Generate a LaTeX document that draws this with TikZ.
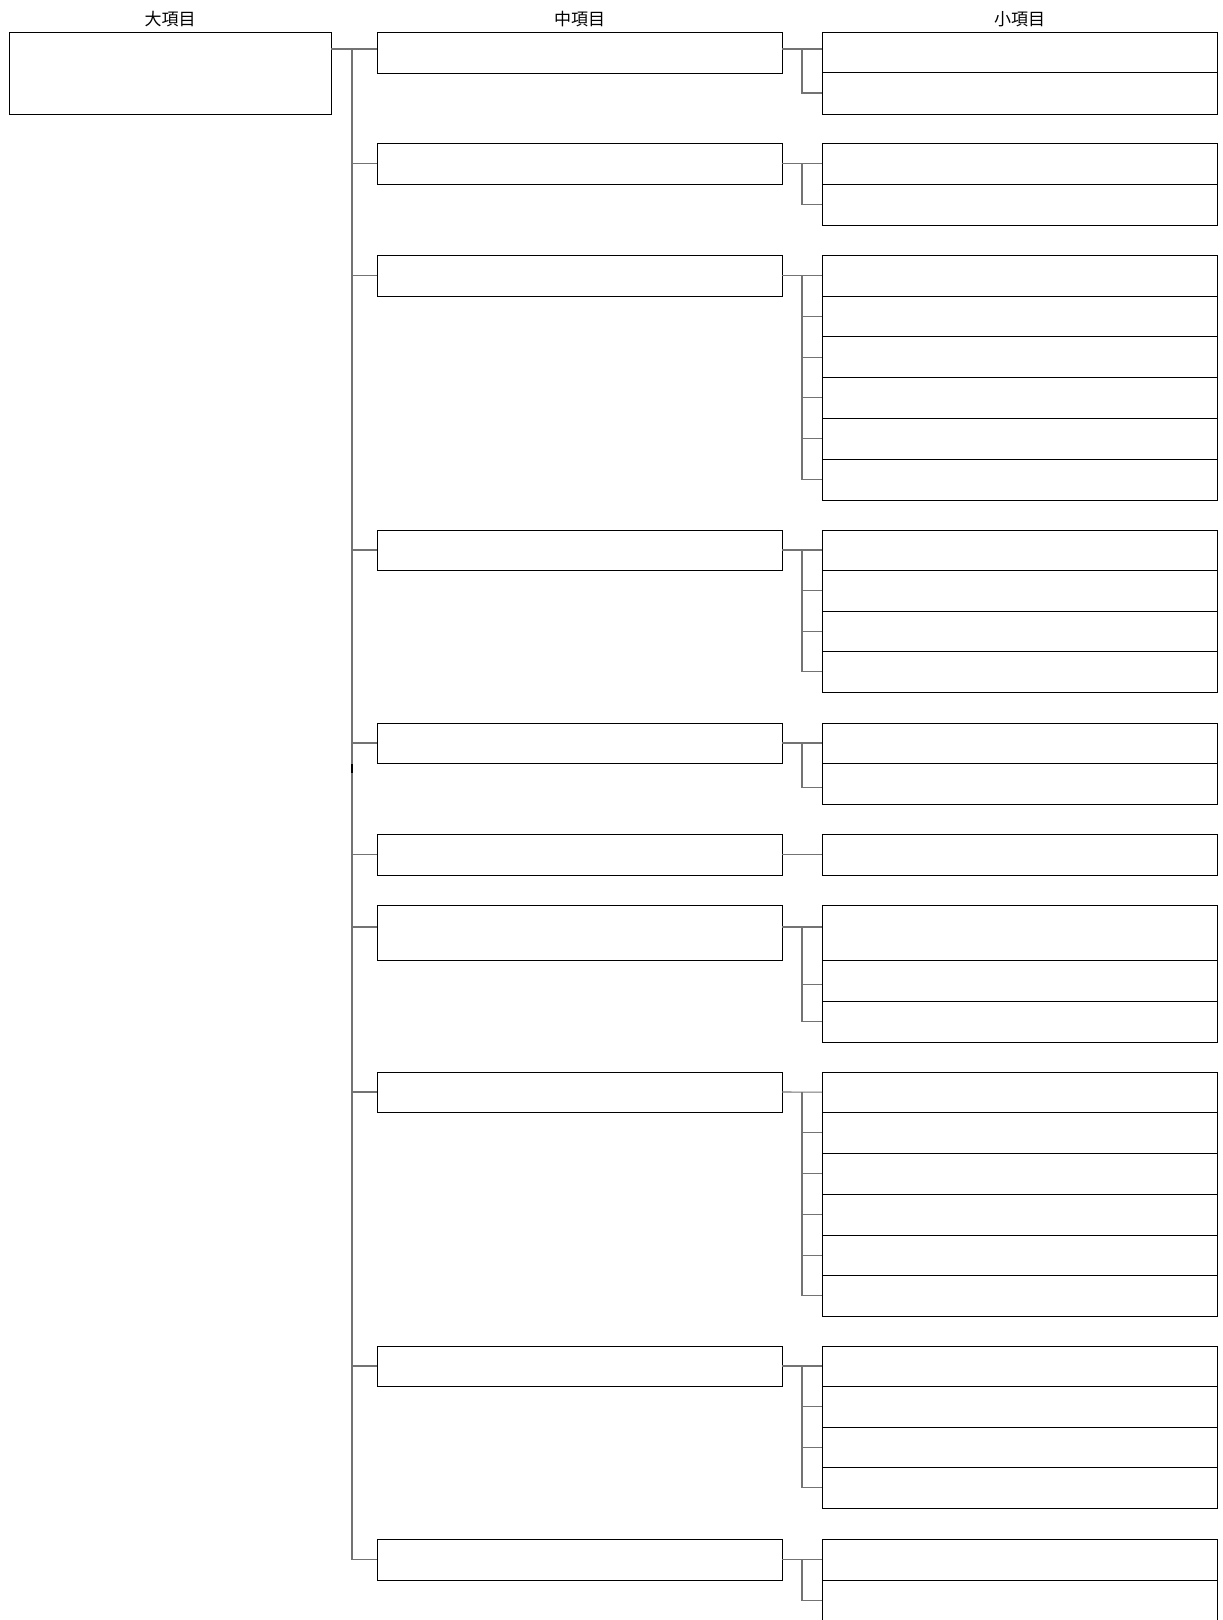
\documentclass[tikz,border=0pt]{standalone}
\usepackage{fontspec}
\newfontfamily\jp{Noto Sans CJK JP}
\begin{document}
\begin{tikzpicture}[x=1pt,y=1pt,
  box/.style={draw=black, line width=1pt, inner sep=0pt, outer sep=0pt, anchor=north west},
  bigbox/.style={box, minimum width=322pt, minimum height=82pt},
  midbox/.style={box, minimum width=405pt},
  smallbox/.style={box, minimum width=395pt},
  conn/.style={draw=black!55, line width=1.1pt},
  hdr/.style={inner sep=0pt, font=\jp\fontsize{17pt}{19pt}\selectfont}]
\useasboundingbox (0,0) rectangle (1223,-1620);
% headers
\node[hdr] (h1) at (170,-19) {大項目};
\node[hdr] (h2) at (579.5,-19) {中項目};
\node[hdr] (h3) at (1019.5,-19) {小項目};
% helper coordinates
\coordinate (tx) at (352,0);
\coordinate (sx) at (802,0);
\coordinate (b1) at (0,-49);
\coordinate (b7) at (0,-927);
% big box
\node[bigbox] (big) at (9,-32) {};
% middle boxes
\node[midbox, minimum height=41pt] (m1) at (377,-32) {};
\node[midbox, minimum height=40.4pt] (m2) at (377,-143.6) {};
\node[midbox, minimum height=41pt] (m3) at (377,-255) {};
\node[midbox, minimum height=40pt] (m4) at (377,-530) {};
\node[midbox, minimum height=40pt] (m5) at (377,-723) {};
\node[midbox, minimum height=41pt] (m6) at (377,-834) {};
\node[midbox, minimum height=55pt] (m7) at (377,-905) {};
\node[midbox, minimum height=40pt] (m8) at (377,-1072) {};
\node[midbox, minimum height=40pt] (m9) at (377,-1346) {};
\node[midbox, minimum height=41pt] (m10) at (377,-1539) {};
% small boxes
\node[smallbox, minimum height=40pt] (s1a) at (822,-32) {};
\node[smallbox, minimum height=42pt] (s1b) at (822,-72) {};
\node[smallbox, minimum height=40.4pt] (s2a) at (822,-143.6) {};
\node[smallbox, minimum height=41.2pt] (s2b) at (822,-184) {};
\node[smallbox, minimum height=41pt] (s3a) at (822,-255) {};
\node[smallbox, minimum height=40.7pt] (s3b) at (822,-296) {};
\node[smallbox, minimum height=40.8pt] (s3c) at (822,-336.7) {};
\node[smallbox, minimum height=40.8pt] (s3d) at (822,-377.5) {};
\node[smallbox, minimum height=40.7pt] (s3e) at (822,-418.3) {};
\node[smallbox, minimum height=41pt] (s3f) at (822,-459) {};
\node[smallbox, minimum height=40pt] (s4a) at (822,-530) {};
\node[smallbox, minimum height=41pt] (s4b) at (822,-570) {};
\node[smallbox, minimum height=40.5pt] (s4c) at (822,-611) {};
\node[smallbox, minimum height=40.5pt] (s4d) at (822,-651.5) {};
\node[smallbox, minimum height=40pt] (s5a) at (822,-723) {};
\node[smallbox, minimum height=41pt] (s5b) at (822,-763) {};
\node[smallbox, minimum height=41pt] (s6a) at (822,-834) {};
\node[smallbox, minimum height=55pt] (s7a) at (822,-905) {};
\node[smallbox, minimum height=41pt] (s7b) at (822,-960) {};
\node[smallbox, minimum height=41pt] (s7c) at (822,-1001) {};
\node[smallbox, minimum height=40.3pt] (s8a) at (822,-1072) {};
\node[smallbox, minimum height=41pt] (s8b) at (822,-1112.3) {};
\node[smallbox, minimum height=41pt] (s8c) at (822,-1153.3) {};
\node[smallbox, minimum height=40.7pt] (s8d) at (822,-1194.3) {};
\node[smallbox, minimum height=40.7pt] (s8e) at (822,-1235) {};
\node[smallbox, minimum height=40.3pt] (s8f) at (822,-1275.7) {};
\node[smallbox, minimum height=40pt] (s9a) at (822,-1346) {};
\node[smallbox, minimum height=41pt] (s9b) at (822,-1386) {};
\node[smallbox, minimum height=40.7pt] (s9c) at (822,-1427) {};
\node[smallbox, minimum height=40.3pt] (s9d) at (822,-1467.7) {};
\node[smallbox, minimum height=41pt] (s10a) at (822,-1539) {};
\node[smallbox, minimum height=41pt] (s10b) at (822,-1580) {};
% main trunk
\draw[conn] (big.east |- b1) -- (m1.west |- b1);
\draw[conn] (tx |- b1) -- (tx |- m10.west) -- (m10.west);
\foreach \g in {2,3,4,5,6,8,9}
  \draw[conn] (tx |- m\g.west) -- (m\g.west);
\draw[conn] (tx |- b7) -- (m7.west |- b7);
\draw[black, line width=1.3pt] ([yshift=-1pt]tx |- m5.south) -- ([yshift=-10pt]tx |- m5.south);
% group 1
\draw[conn] (m1.east |- b1) -- (s1a.west |- b1);
\draw[conn] (sx |- b1) -- (sx |- s1b.west) -- (s1b.west);
% group 2
\draw[conn] (m2.east) -- (s2a.west);
\draw[conn] (sx |- s2a.west) -- (sx |- s2b.west) -- (s2b.west);
% group 3
\draw[conn] (m3.east) -- (s3a.west);
\draw[conn] (sx |- s3a.west) -- (sx |- s3f.west) -- (s3f.west);
\foreach \r in {b,c,d,e} \draw[conn] (sx |- s3\r.west) -- (s3\r.west);
% group 4
\draw[conn] (m4.east) -- (s4a.west);
\draw[conn] (sx |- s4a.west) -- (sx |- s4d.west) -- (s4d.west);
\foreach \r in {b,c} \draw[conn] (sx |- s4\r.west) -- (s4\r.west);
% group 5
\draw[conn] (m5.east) -- (s5a.west);
\draw[conn] (sx |- s5a.west) -- ([yshift=-4pt]sx |- s5b.west) -- ([yshift=-4pt]s5b.west);
% group 6
\draw[conn] (m6.east) -- (s6a.west);
% group 7
\draw[conn] (m7.east |- b7) -- (s7a.west |- b7);
\draw[conn] (sx |- b7) -- (sx |- s7c.west) -- (s7c.west);
\draw[conn] ([yshift=-4pt]sx |- s7b.west) -- ([yshift=-4pt]s7b.west);
% group 8
\draw[conn] (m8.east) -- (s8a.west);
\draw[conn] (sx |- s8a.west) -- (sx |- s8f.west) -- (s8f.west);
\foreach \r in {b,c,d,e} \draw[conn] (sx |- s8\r.west) -- (s8\r.west);
% group 9
\draw[conn] (m9.east) -- (s9a.west);
\draw[conn] (sx |- s9a.west) -- (sx |- s9d.west) -- (s9d.west);
\foreach \r in {b,c} \draw[conn] (sx |- s9\r.west) -- (s9\r.west);
% group 10
\draw[conn] (m10.east) -- (s10a.west);
\draw[conn] (sx |- s10a.west) -- (sx |- s10b.west) -- (s10b.west);
\end{tikzpicture}
\end{document}
